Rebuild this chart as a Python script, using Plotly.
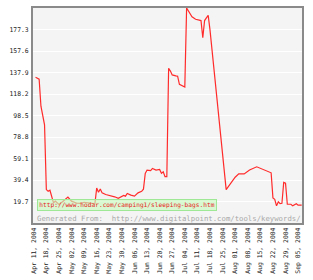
import plotly.graph_objects as go

dates = ["2004-04-12","2004-04-14","2004-04-15","2004-04-17","2004-04-18","2004-04-19","2004-04-20",
         "2004-04-21","2004-04-22","2004-04-23","2004-04-25","2004-04-27","2004-04-30","2004-05-02",
         "2004-05-05","2004-05-07","2004-05-09","2004-05-13","2004-05-15","2004-05-16","2004-05-17",
         "2004-05-18","2004-05-19","2004-05-21","2004-05-23","2004-05-24","2004-05-26","2004-05-28",
         "2004-05-29","2004-05-31","2004-06-01","2004-06-02","2004-06-04","2004-06-06","2004-06-08",
         "2004-06-10","2004-06-11","2004-06-12","2004-06-13","2004-06-15","2004-06-16","2004-06-18",
         "2004-06-20","2004-06-21","2004-06-22","2004-06-23","2004-06-24","2004-06-25","2004-06-26",
         "2004-06-27","2004-06-29","2004-06-30","2004-07-01","2004-07-02","2004-07-03","2004-07-04",
         "2004-07-05","2004-07-06","2004-07-07","2004-07-08","2004-07-10","2004-07-12","2004-07-13",
         "2004-07-14","2004-07-15","2004-07-16","2004-07-17","2004-07-18","2004-07-27","2004-08-01",
         "2004-08-03","2004-08-06","2004-08-09","2004-08-13","2004-08-21","2004-08-22","2004-08-23",
         "2004-08-24","2004-08-25","2004-08-26","2004-08-27","2004-08-28","2004-08-29","2004-08-30",
         "2004-09-01","2004-09-02","2004-09-04","2004-09-05","2004-09-07"]
values = [133.6,131.8,107.0,90.0,30.6,29.1,30.0,
          24.6,18.4,20.0,17.0,19.5,23.7,20.0,
          18.1,18.0,19.0,18.0,17.5,32.0,28.2,
          31.2,27.6,26.1,25.3,24.6,24.0,22.6,
          23.7,25.3,24.6,27.0,25.5,24.6,27.6,
          29.0,31.0,45.5,48.5,48.0,50.0,48.5,
          49.0,45.5,47.0,42.5,42.5,141.7,139.2,
          135.7,134.8,134.5,127.0,126.0,125.0,124.6,
          197.0,194.0,192.0,189.0,186.7,185.8,185.5,
          169.7,185.5,188.0,190.3,177.0,30.6,41.9,
          45.0,45.0,48.5,51.5,46.0,23.0,21.7,
          15.7,19.5,17.7,18.0,37.2,36.5,17.2,
          17.2,15.7,17.7,16.3,16.3]

y_ticks = [19.7, 39.4, 59.1, 78.8, 98.5, 118.2, 137.9, 157.6, 177.3]
y_tick_labels = ["19.7", "39.4", "59.1", "78.8", "98.5", "118.2", "137.9", "157.6", "177.3"]
x_ticks = ["2004-04-11","2004-04-18","2004-04-25","2004-05-02","2004-05-09","2004-05-16",
           "2004-05-23","2004-05-30","2004-06-06","2004-06-13","2004-06-20","2004-06-27",
           "2004-07-04","2004-07-11","2004-07-18","2004-07-25","2004-08-01","2004-08-08",
           "2004-08-15","2004-08-22","2004-08-29","2004-09-05"]
x_tick_labels = ["Apr 11, 2004","Apr 18, 2004","Apr 25, 2004","May 02, 2004","May 09, 2004",
                 "May 16, 2004","May 23, 2004","May 30, 2004","Jun 06, 2004","Jun 13, 2004",
                 "Jun 20, 2004","Jun 27, 2004","Jul 04, 2004","Jul 11, 2004","Jul 18, 2004",
                 "Jul 25, 2004","Aug 01, 2004","Aug 08, 2004","Aug 15, 2004","Aug 22, 2004",
                 "Aug 29, 2004","Sep 05, 2004"]

mono = "DejaVu Sans Mono"

fig = go.Figure()
fig.add_trace(go.Scatter(x=dates, y=values, mode="lines",
                         line=dict(color="#ff2b2b", width=1.2), hoverinfo="skip"))

fig.update_layout(
    width=313, height=280,
    margin=dict(l=33, r=11, t=6, b=52),
    paper_bgcolor="white", plot_bgcolor="#f4f4f4",
    showlegend=False,
    xaxis=dict(type="date", range=["2004-04-10 14:00", "2004-09-07 04:00"],
               tickvals=x_ticks, ticktext=x_tick_labels, tickangle=-90,
               tickfont=dict(family=mono, size=6.4, color="#222"),
               showgrid=False, zeroline=False, ticks="",
               showline=True, linecolor="#8a8a8a", linewidth=2, mirror=True),
    yaxis=dict(range=[0, 197], tickvals=y_ticks, ticktext=y_tick_labels,
               tickfont=dict(family=mono, size=6.4, color="#222"),
               showgrid=True, gridcolor="white", gridwidth=1, zeroline=False, ticks="",
               ticklabelstandoff=1,
               showline=True, linecolor="#8a8a8a", linewidth=2, mirror=True),
)

fig.add_annotation(xref="paper", yref="paper", x=0.349, y=0.0844,
                   xanchor="center", yanchor="middle",
                   text="http://www.hodar.com/camping1/sleeping-bags.htm",
                   showarrow=False, font=dict(family=mono, size=6.2, color="#e81c1c"),
                   bgcolor="rgba(200,250,190,0.65)", bordercolor="#9ee896", borderwidth=1,
                   borderpad=0.5, width=177, height=9)
fig.add_annotation(xref="paper", yref="paper", x=0.006, y=0.0226,
                   xanchor="left", yanchor="middle",
                   text="Generated From:\u00a0\u00a0http://www.digitalpoint.com/tools/keywords/",
                   showarrow=False, font=dict(family=mono, size=7.3, color="#a8a8a8"))

fig.write_html("out.html")
